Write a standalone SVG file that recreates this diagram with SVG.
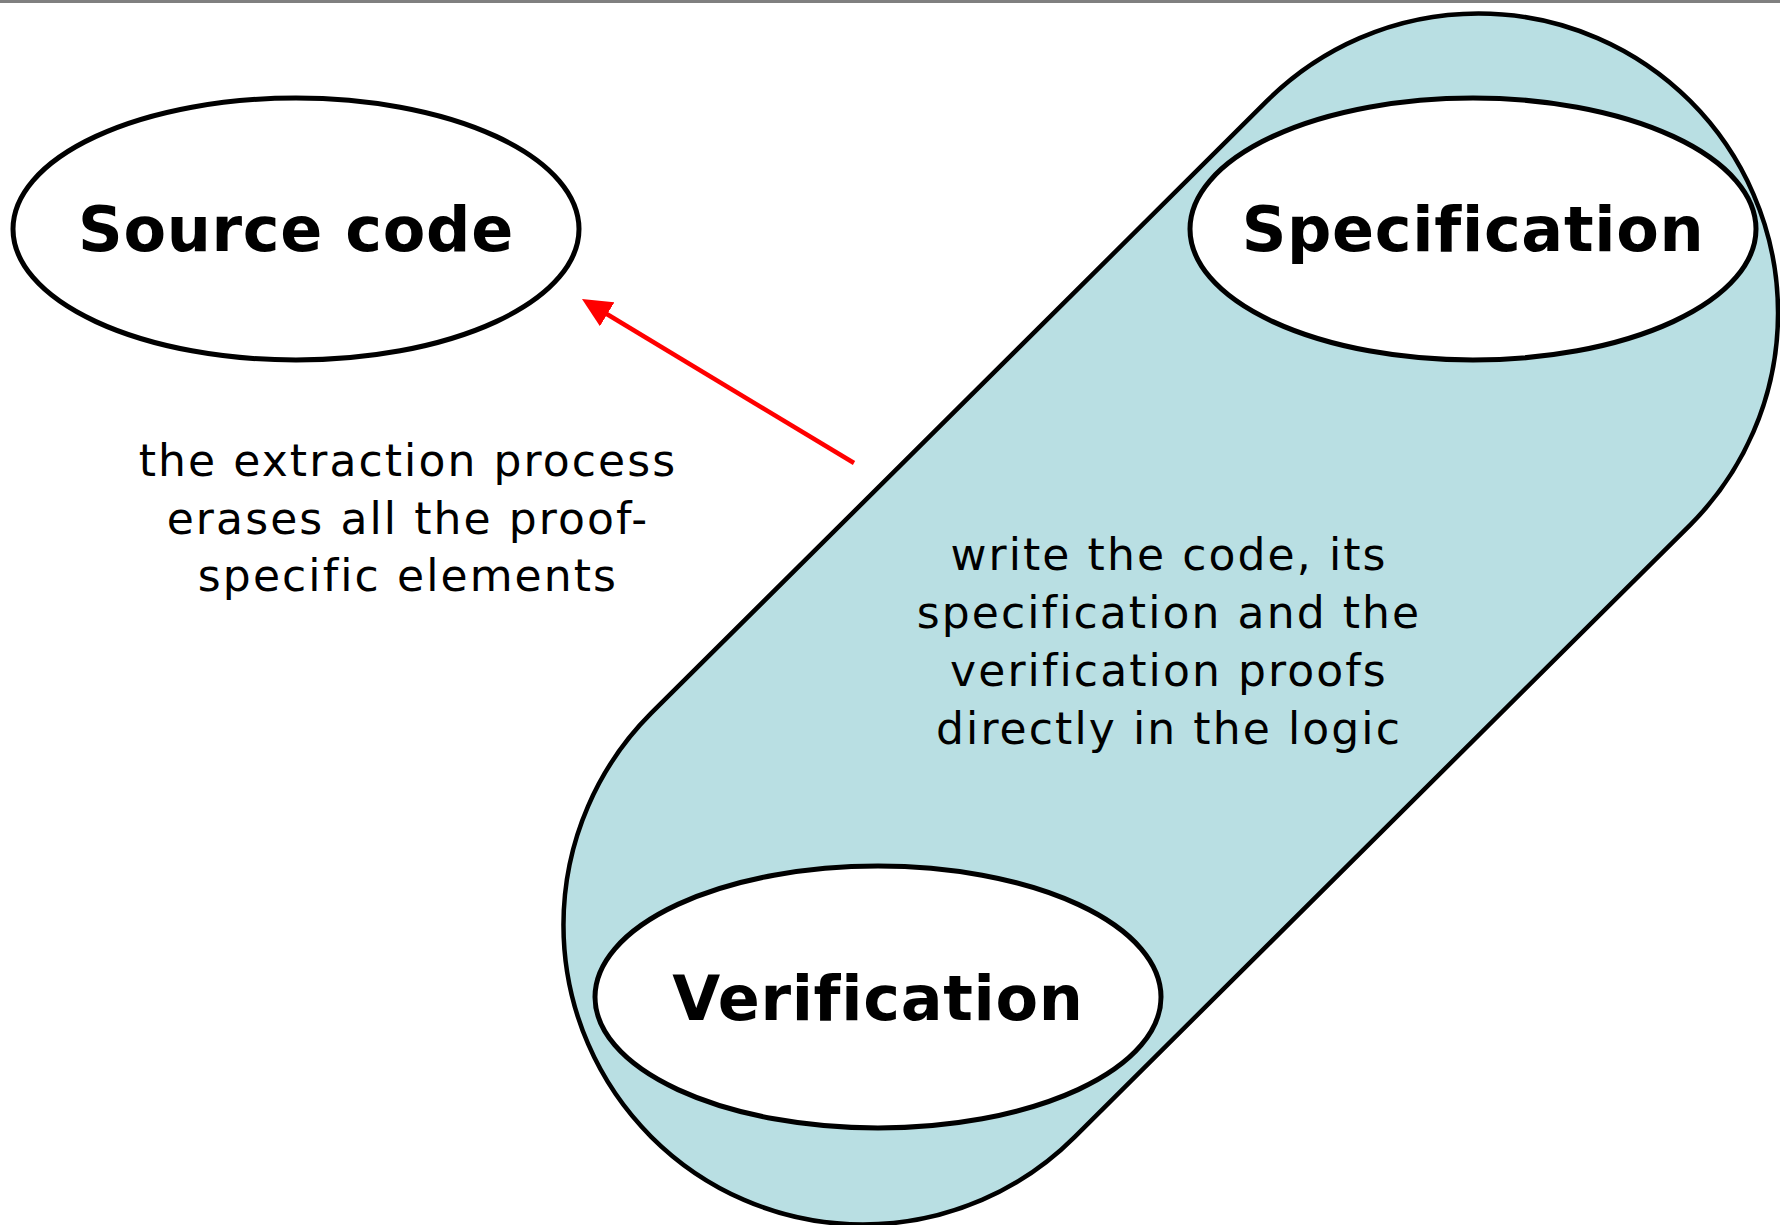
<svg xmlns="http://www.w3.org/2000/svg" width="1780" height="1225" viewBox="0 0 1780 1225">
  <style>
    text { font-variant-ligatures: none; }
    .node { fill: #ffffff; stroke: #000000; stroke-width: 5; }
    .title { font-family: "DejaVu Sans", Verdana, sans-serif; font-weight: bold; font-size: 62px; letter-spacing: 0.7px; fill: #000000; text-anchor: middle; }
    .note { font-family: "DejaVu Sans", Verdana, sans-serif; font-size: 44px; letter-spacing: 2.1px; fill: #000000; text-anchor: middle; }
    .band { fill: #B9DFE3; stroke: #000000; stroke-width: 4.5; }
    .flow { stroke: #FF0000; stroke-width: 4.5; fill: none; }
  </style>
  <defs>
    <marker id="redHead" markerUnits="userSpaceOnUse" viewBox="0 -14 30 28" markerWidth="30" markerHeight="28" refX="2.4" refY="0" orient="auto">
      <path d="M0,-14 L29.4,0 L0,14 Z" fill="#FF0000"/>
    </marker>
  </defs>

  <rect x="0" y="0" width="1780" height="1225" fill="#ffffff"/>
  <rect x="0" y="0" width="1780" height="3" fill="#808080"/>

  <!-- tilted capsule grouping specification and verification -->
  <g id="logic-band">
    <path class="band" d="M1266.7,101.2 A299.5,299.5 0 0 1 1690.3,524.8 L1074.8,1136.8 A299.5,299.5 0 0 1 651.2,713.2 Z"/>
    <text class="note" x="1169" y="570">write the code, its</text>
    <text class="note" x="1169" y="628">specification and the</text>
    <text class="note" x="1169" y="686">verification proofs</text>
    <text class="note" x="1169" y="744">directly in the logic</text>
  </g>

  <g id="source-code">
    <ellipse class="node" cx="296" cy="229" rx="283" ry="131"/>
    <text class="title" x="296" y="251">Source code</text>
  </g>

  <g id="specification">
    <ellipse class="node" cx="1473" cy="229" rx="283" ry="131"/>
    <text class="title" x="1473" y="251">Specification</text>
  </g>

  <g id="verification">
    <ellipse class="node" cx="878" cy="997" rx="283" ry="131"/>
    <text class="title" x="878" y="1020">Verification</text>
  </g>

  <g id="connectors">
    <line class="flow" x1="854" y1="463" x2="605.1" y2="313" marker-end="url(#redHead)"/>
  </g>

  <g id="extraction-note">
    <text class="note" x="408" y="476">the extraction process</text>
    <text class="note" x="408" y="534">erases all the proof-</text>
    <text class="note" x="408" y="591">specific elements</text>
  </g>
</svg>
